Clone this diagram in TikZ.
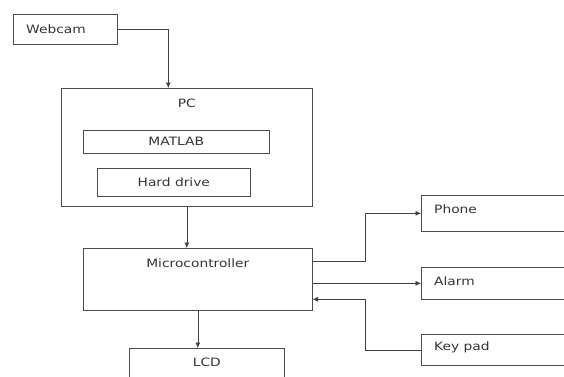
\documentclass[tikz,border=0pt]{standalone}
\usepackage{fontspec}
\setmainfont[FakeStretch=1.2]{DejaVu Sans}
\usetikzlibrary{arrows.meta}

\tikzset{
  blk/.style={
    draw=black!70,
    line width=0.6pt,
    rectangle,
    inner sep=0pt,
    anchor=north west
  },
  openblk/.style={
    blk,
    draw=none
  },
  edge/.style={
    draw=black!70,
    line width=0.6pt
  },
  lbl/.style={
    font=\fontsize{11.5}{13}\selectfont,
    text=black!80,
    inner sep=0pt
  },
  arr/.style={
    draw=black!75,
    line width=0.6pt,
    -{Latex[length=5.5pt,width=5pt]}
  },
}

\begin{document}
\begin{tikzpicture}[x=1pt, y=-1pt]
  \useasboundingbox (0,0) rectangle (564,376);
  \clip (0,0) rectangle (564,376);
  % blocks
  \node[blk, minimum width=104pt, minimum height=30pt,
    label={[lbl, anchor=west, xshift=13pt]west:Webcam}] (webcam) at (13,14) {};
  \node[blk, minimum width=251pt, minimum height=118pt,
    label={[lbl, anchor=center, yshift=-15pt]north:PC}] (pc) at (61,88) {};
  \node[blk, minimum width=186pt, minimum height=23pt, lbl] (matlab) at (83,130) {MATLAB};
  \node[blk, minimum width=153pt, minimum height=28pt, lbl] (hdd) at (97,168) {Hard drive};
  \node[blk, minimum width=229pt, minimum height=62pt,
    label={[lbl, anchor=center, yshift=-15pt]north:Microcontroller}] (micro) at (83,248) {};
  \node[blk, minimum width=155pt, minimum height=60pt,
    label={[lbl, anchor=center, yshift=-14pt]north:LCD}] (lcd) at (129,348) {};
  % these run off the right edge
  \node[openblk, minimum width=200pt, minimum height=36pt,
    label={[lbl, anchor=west, xshift=13pt, yshift=4pt]west:Phone}] (phone) at (421,195) {};
  \node[openblk, minimum width=200pt, minimum height=32pt,
    label={[lbl, anchor=west, xshift=13pt, yshift=2pt]west:Alarm}] (alarm) at (421,267) {};
  \node[openblk, minimum width=200pt, minimum height=31pt,
    label={[lbl, anchor=west, xshift=13pt, yshift=2pt]west:Key pad}] (keypad) at (421,334) {};
  \foreach \n in {phone, alarm, keypad}
    \draw[edge] (\n.north east) -- (\n.north west) -- (\n.south west) -- (\n.south east);
  % connectors
  \draw[arr] (webcam.east) -| ([xshift=-18.5pt]pc.north);
  \draw[arr] (pc.south) -- (pc.south |- micro.north);
  \draw[arr] (micro.south) -- (micro.south |- lcd.north);
  \draw[arr] ([yshift=18pt]micro.east) -- ++(53,0) |- (phone.west);
  \draw[arr] (micro.east |- alarm.west) -- (alarm.west);
  \draw[arr] (keypad.west) -- ++(-56,0) |- ([yshift=-20pt]micro.east);
\end{tikzpicture}
\end{document}
